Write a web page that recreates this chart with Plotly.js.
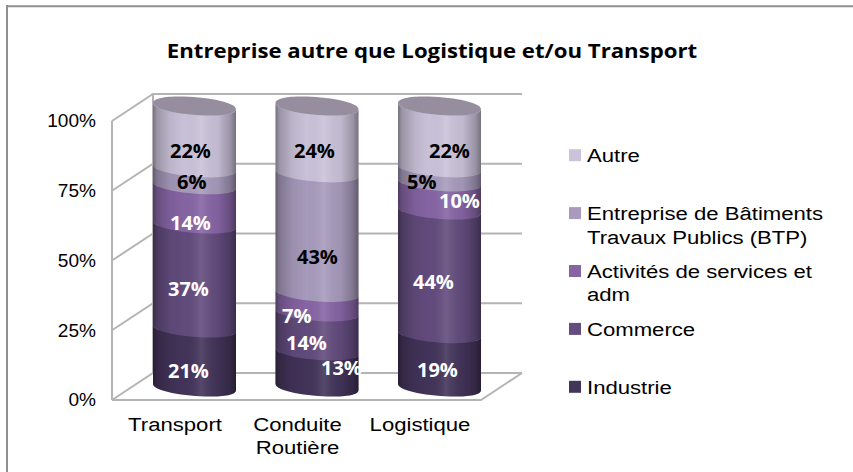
<!DOCTYPE html>
<html><head><meta charset="utf-8">
<script src="https://cdn.plot.ly/plotly-3.0.1.min.js"></script>
<style>html,body{margin:0;padding:0;background:#fff}#c{width:853px;height:472px}</style>
</head><body><div id="c"></div>
<script>
// ---- data
const categories = ['Transport', 'Conduite<br>Routière', 'Logistique'];
const seriesNames = ['Industrie<br>&nbsp;', 'Commerce<br>&nbsp;', 'Activités de services et<br>adm', 'Entreprise de Bâtiments<br>Travaux Publics (BTP)', 'Autre<br>&nbsp;'];
const industrie = [21, 13, 19];
const commerce = [37, 14, 44];
const activites = [14, 7, 10];
const btp = [6, 43, 5];
const autre = [22, 24, 22];
const tickValues = [0, 25, 50, 75, 100];

// ---- styles
const colors = ['#43345a', '#634c7e', '#8765a5', '#a89bbd', '#cbc3da'];
const labelColors = ['#fff', '#fff', '#fff', '#000', '#000'];
// label nudges in pixels, per series then per category
const labelDx = [[-6.5, 24, -2.5], [-6.5, -11, -6.5], [-4, -21, 19.5], [-3.5, 0, -18.5], [-4.5, -3, 9.5]];
const labelDy = [[12.5, -1, 8.7], [12, 11.6, 10.2], [17.7, 12.9, 4.1], [5.7, 24.4, 6.2], [13.1, 11.6, 13.1]];

const series = [industrie, commerce, activites, btp, autre];
const P = {l: 112, r: 522, t: 91, b: 400};      // 3D box on the page
const backDx = 41, backDy = 27;                 // depth of the box
const step = 122.5;                             // px per category
const frontScale = 2.79, barScale = 2.81;       // px per percent
const barZero = 387;                            // page y of the cylinders' 0%
const halfW = 41.5 / step, ry = 9 / barScale, tilt = 3.2 / barScale;
const xFront0 = 175, xBar0 = 194.5;

const px = x => (x - P.l) / (P.r - P.l);
const py = y => (P.b - y) / (P.b - P.t);

const traces = series.map((vals, i) => ({
  type: 'bar', name: seriesNames[i], x: categories, y: vals,
  xaxis: 'x2', yaxis: 'y2', width: 0.6, legendgroup: 'g' + i, legendrank: 10 - i,
  marker: {color: colors[i], line: {width: 0}}, hoverinfo: 'x+y+name'
}));
traces.push({type: 'scatter', mode: 'markers', x: categories, y: [0, 0, 0], marker: {opacity: 0}, showlegend: false, hoverinfo: 'skip'});

// stacked shares (the reference is a 100% stack)
const totals = categories.map((_, c) => series.reduce((s, v) => s + v[c], 0));
const cum = series.map((_, i) => categories.map((_, c) => series.slice(0, i + 1).reduce((s, v) => s + v[c], 0) / totals[c] * 100));
const base = i => c => i === 0 ? 0 : cum[i - 1][c];

const front = (c, v) => `C${c - halfW},${v + tilt - 4 / 3 * ry} ${c + halfW},${v - tilt - 4 / 3 * ry} ${c + halfW},${v - tilt}`;
const back = (c, v) => `C${c + halfW},${v - tilt - 4 / 3 * ry} ${c - halfW},${v + tilt - 4 / 3 * ry} ${c - halfW},${v + tilt}`;
const upper = (c, v) => `C${c + halfW},${v - tilt + 4 / 3 * ry} ${c - halfW},${v + tilt + 4 / 3 * ry} ${c - halfW},${v + tilt}`;
const body = (c, lo, hi) => `M${c - halfW},${hi + tilt} ${front(c, hi)} L${c + halfW},${lo - tilt} ${back(c, lo)} Z`;

const shapes = [];
// outer frame: only the left and top edges are inside the picture
const edge = {color: '#8f8f8f', width: 2};
shapes.push({type: 'line', xref: 'paper', yref: 'paper', x0: px(7), x1: px(7), y0: py(5), y1: py(472), line: edge, layer: 'below'});
shapes.push({type: 'line', xref: 'paper', yref: 'paper', x0: px(6), x1: px(853), y0: py(6.3), y1: py(6.3), line: edge, layer: 'below'});
// walls and back gridlines
const wall = {color: '#b4b4b4', width: 2};
const yv = v => P.b - v * frontScale;
tickValues.forEach(v => {
  const y = yv(v);
  shapes.push({type: 'path', xref: 'paper', yref: 'paper', layer: 'below', line: wall,
    path: `M${px(P.l)},${py(y)} L${px(P.l + backDx)},${py(y - backDy)} L${px(P.r)},${py(y - backDy)}`});
});
const floor = [[P.l, yv(0)], [P.r - backDx, yv(0)], [P.r, yv(0) - backDy]];
shapes.push({type: 'path', xref: 'paper', yref: 'paper', layer: 'below', line: wall,
  path: 'M' + floor.map(p => px(p[0]) + ',' + py(p[1])).join(' L')});
shapes.push({type: 'line', xref: 'paper', yref: 'paper', layer: 'below', line: wall, x0: px(P.l), x1: px(P.l), y0: py(yv(0)), y1: py(yv(100))});
shapes.push({type: 'line', xref: 'paper', yref: 'paper', layer: 'below', line: wall, x0: px(P.l + backDx), x1: px(P.l + backDx), y0: py(yv(0) - backDy), y1: py(yv(100) - backDy)});

// cylinders: segments drawn on the bars' own axes, bottom first
const shadeIdx = [];
categories.forEach((_, c) => {
  series.forEach((_, i) => {
    shapes.push({type: 'path', xref: 'x2', yref: 'y2', layer: 'above', line: {width: 0},
      fillcolor: colors[i], path: body(c, base(i)(c), cum[i][c])});
  });
  shadeIdx.push(shapes.length);
  shapes.push({type: 'path', xref: 'x2', yref: 'y2', layer: 'above', line: {width: 0},
    fillcolor: 'rgba(0,0,0,0.1)', path: body(c, 0, 100)});
  shapes.push({type: 'path', xref: 'x2', yref: 'y2', layer: 'above', line: {width: 0},
    fillcolor: '#968d9f', path: `M${c - halfW},${100 + tilt} ${front(c, 100)} ${upper(c, 100)} Z`});
});

// data labels
const annotations = [];
series.forEach((vals, i) => vals.forEach((v, c) => {
  annotations.push({xref: 'x2', yref: 'y2', x: c, y: base(i)(c) + (cum[i][c] - base(i)(c)) / 2,
    text: '<b>' + v + '%</b>', showarrow: false, xshift: labelDx[i][c], yshift: -labelDy[i][c],
    font: {family: 'Open Sans, sans-serif', size: 20, color: labelColors[i]}});
}));

const layout = {
  width: 853, height: 472, autosize: false,
  paper_bgcolor: '#fff', plot_bgcolor: 'rgba(0,0,0,0)',
  margin: {l: P.l, r: 853 - P.r, t: P.t, b: 472 - P.b, pad: 0},
  barmode: 'stack', barnorm: 'percent', showlegend: true,
  title: {text: '<b>Entreprise autre que Logistique et/ou Transport</b>', xref: 'container', x: 432 / 853, xanchor: 'center',
    yref: 'container', y: 1 - 51 / 472, yanchor: 'middle', font: {family: 'Open Sans, sans-serif', size: 20, color: '#000'}},
  font: {family: 'Liberation Sans, Arial, sans-serif', size: 18, color: '#000'},
  xaxis: {type: 'category', range: [(P.l - xFront0) / step, (P.r - xFront0) / step], showgrid: false, zeroline: false, showline: false,
    ticks: '', tickfont: {size: 18}, ticklabelstandoff: 12, fixedrange: true},
  yaxis: {range: [0, (P.b - P.t) / frontScale], tickvals: tickValues, ticktext: tickValues.map(v => v + '%'), showgrid: false, zeroline: false, showline: false,
    ticks: '', tickfont: {size: 18}, ticklabelstandoff: 15, fixedrange: true},
  xaxis2: {type: 'category', overlaying: 'x', range: [(P.l - xBar0) / step, (P.r - xBar0) / step], visible: false, fixedrange: true},
  yaxis2: {overlaying: 'y', range: [(barZero - P.b) / barScale, (barZero - P.t) / barScale], visible: false, fixedrange: true},
  legend: {x: px(552), xanchor: 'left', y: py(137), yanchor: 'top', traceorder: 'grouped', tracegroupgap: 8.1,
    entrywidthmode: 'pixels', entrywidth: 250,
    font: {family: 'Liberation Sans, Arial, sans-serif', size: 18, color: '#000'}, bgcolor: 'rgba(0,0,0,0)'},
  shapes: shapes, annotations: annotations
};

function stretch(el, k, side, dx) {
  const b = el.getBBox();
  const cx = side === 'left' ? b.x : side === 'right' ? b.x + b.width : b.x + b.width / 2;
  const t = el.getAttribute('transform') || '';
  el.setAttribute('transform', `${t} translate(${cx + (dx || 0)},0) scale(${k},1) translate(${-cx},0)`);
}

Plotly.newPlot('c', traces, layout, {displayModeBar: false, staticPlot: true}).then(gd => {
  // cylinder shading: a soft horizontal gradient on the silhouette shapes
  const svg = gd.querySelector('svg.main-svg');
  const ns = 'http://www.w3.org/2000/svg';
  const defs = svg.querySelector('defs') || svg.insertBefore(document.createElementNS(ns, 'defs'), svg.firstChild);
  const g = document.createElementNS(ns, 'linearGradient');
  g.setAttribute('id', 'cylShade'); g.setAttribute('x1', '0'); g.setAttribute('x2', '1'); g.setAttribute('y1', '0'); g.setAttribute('y2', '0');
  [[0, '#000', .42], [.05, '#000', .24], [.2, '#000', .08], [.38, '#000', .01], [.58, '#fff', .1], [.78, '#000', .05], [.93, '#000', .24], [1, '#000', .42]].forEach(s => {
    const e = document.createElementNS(ns, 'stop');
    e.setAttribute('offset', s[0]); e.setAttribute('stop-color', s[1]); e.setAttribute('stop-opacity', s[2]);
    g.appendChild(e);
  });
  defs.appendChild(g);
  shadeIdx.forEach(i => {
    const p = gd.querySelector(`.shapelayer path[data-index="${i}"]`);
    if (p) { p.style.fill = 'url(#cylShade)'; p.style.fillOpacity = 1; }
  });
  // the reference's text is drawn wider than the font's natural proportions
  const box = gd.querySelector('.legend .scrollbox');
  if (box) box.removeAttribute('clip-path');
  gd.querySelectorAll('.legend .legendtext').forEach(t => stretch(t, 1.23, 'left', -5));
  gd.querySelectorAll('.xaxislayer-above .xtick text').forEach(t => stretch(t, 1.23, 'center'));
  gd.querySelectorAll('.yaxislayer-above .ytick text').forEach(t => stretch(t, 1.06, 'right'));
  gd.querySelectorAll('.gtitle').forEach(t => stretch(t, 1.11, 'center'));
  // legend swatches sit on the first line of each entry
  gd.querySelectorAll('.legend .legendsymbols').forEach(s => s.setAttribute('transform', 'translate(3,-11.7)'));
});
</script></body></html>
